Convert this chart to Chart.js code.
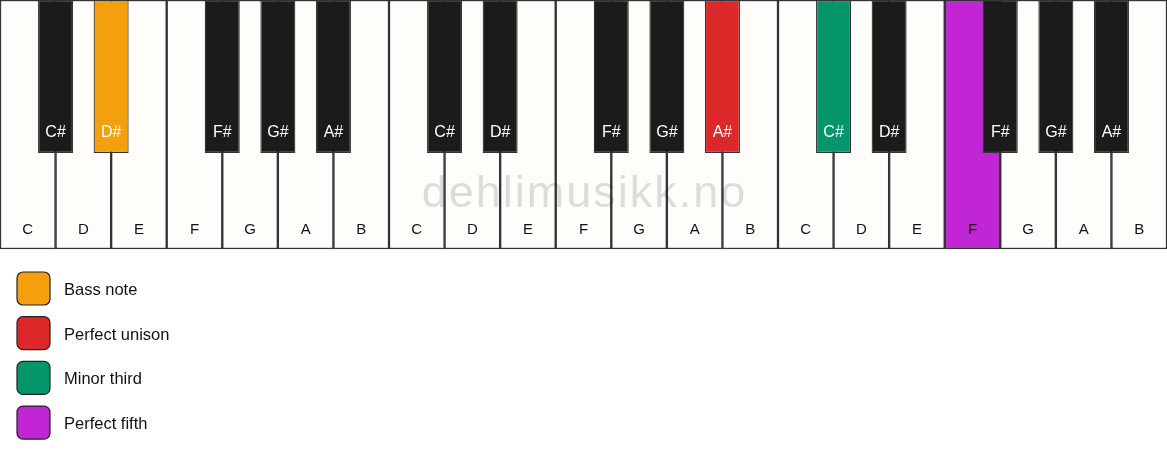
<!DOCTYPE html>
<html>
<head>
<meta charset="utf-8">
<script src="https://cdn.jsdelivr.net/npm/chart.js@4/dist/chart.umd.min.js"></script>
<style>
  html, body { margin: 0; padding: 0; background: #ffffff; }
  #wrap { width: 1167px; height: 461px; position: relative; }
</style>
</head>
<body>
<div id="wrap"><canvas id="piano"></canvas></div>
<script>
// keyboard data: three octaves starting on C
const whiteNotes = ['C','D','E','F','G','A','B','C','D','E','F','G','A','B','C','D','E','F','G','A','B']
const blackNotes = ['C#','D#','F#','G#','A#','C#','D#','F#','G#','A#','C#','D#','F#','G#','A#']
// black keys sit on the boundary between white keys (white key index units)
const blackPositions = [1, 2, 4, 5, 6, 8, 9, 11, 12, 13, 15, 16, 18, 19, 20]

// highlighted keys: which key (by index in its row) and what role it plays
const highlightWhite = [17]
const highlightWhiteRole = ['Perfect fifth']
const highlightBlack = [1, 9, 10]
const highlightBlackRole = ['Bass note', 'Perfect unison', 'Minor third']

const legendLabels = ['Bass note', 'Perfect unison', 'Minor third', 'Perfect fifth']
const legendColors = ['#f49f0e', '#dc2828', '#04966a', '#c026d3']

const watermark = 'dehlimusikk.no'

const WHITE_FILL = '#fffdf9'
const BLACK_FILL = '#1b1b1b'
const KEY_EDGE = '#333333'
const WHITE_BOTTOM = 249
const BLACK_BOTTOM = 153

function roleColor(role) {
    return legendColors[legendLabels.indexOf(role)]
}

const whiteColors = whiteNotes.map((n, i) => {
    const h = highlightWhite.indexOf(i)
    return h >= 0 ? roleColor(highlightWhiteRole[h]) : WHITE_FILL
})
const blackColors = blackNotes.map((n, i) => {
    const h = highlightBlack.indexOf(i)
    return h >= 0 ? roleColor(highlightBlackRole[h]) : BLACK_FILL
})

const whiteData = whiteNotes.map((n, i) => ({ x: i + 0.5, y: [0, WHITE_BOTTOM] }))
const blackData = blackPositions.map(p => ({ x: p, y: [0, BLACK_BOTTOM] }))

const FONT = "'Liberation Sans', Arial, Helvetica, sans-serif"

// key names, watermark and the colour legend
const pianoText = {
    id: 'pianoText',
    afterDatasetsDraw(chart) {
        const ctx = chart.ctx
        const xs = chart.scales.x
        const xb = chart.scales.x2
        const ys = chart.scales.y
        ctx.save()
        ctx.textAlign = 'center'
        ctx.textBaseline = 'middle'

        ctx.font = '15px ' + FONT
        whiteNotes.forEach((n, i) => {
            ctx.fillStyle = '#111111'
            ctx.fillText(n, xs.getPixelForValue(i + 0.5), ys.getPixelForValue(230))
        })
        ctx.font = '16px ' + FONT
        blackNotes.forEach((n, i) => {
            ctx.fillStyle = '#ffffff'
            ctx.fillText(n, xb.getPixelForValue(blackPositions[i]), ys.getPixelForValue(133))
        })

        // watermark
        ctx.font = '45px ' + FONT
        ctx.fillStyle = 'rgba(0, 0, 0, 0.13)'
        ctx.textBaseline = 'alphabetic'
        if ('letterSpacing' in ctx) ctx.letterSpacing = '2px'
        ctx.fillText(watermark, xs.getPixelForValue(10.5) + 1, ys.getPixelForValue(207))
        if ('letterSpacing' in ctx) ctx.letterSpacing = '0px'
        ctx.restore()
    },
    afterDraw(chart) {
        const ctx = chart.ctx
        ctx.save()
        legendLabels.forEach((label, i) => {
            const top = 272 + i * 44.7
            ctx.beginPath()
            ctx.roundRect(17, top, 33, 33, 6)
            ctx.fillStyle = legendColors[i]
            ctx.fill()
            ctx.lineWidth = 1.2
            ctx.strokeStyle = '#222222'
            ctx.stroke()
            ctx.fillStyle = '#111111'
            ctx.font = '16.5px ' + FONT
            ctx.textAlign = 'left'
            ctx.textBaseline = 'middle'
            ctx.fillText(label, 64, top + 18.5)
        })
        ctx.restore()
    }
}

new Chart(document.getElementById('piano').getContext('2d'), {
    type: 'bar',
    data: {
        datasets: [
            {
                label: 'black keys',
                data: blackData,
                xAxisID: 'x2',
                backgroundColor: blackColors,
                borderColor: KEY_EDGE,
                borderWidth: 1.2,
                borderSkipped: false,
                grouped: false,
                categoryPercentage: 1,
                barPercentage: 0.63,
                order: 0
            },
            {
                label: 'white keys',
                data: whiteData,
                xAxisID: 'x',
                backgroundColor: whiteColors,
                borderColor: KEY_EDGE,
                borderWidth: 1.5,
                borderSkipped: false,
                grouped: false,
                categoryPercentage: 1,
                barPercentage: 1,
                order: 1
            }
        ]
    },
    options: {
        responsive: true,
        maintainAspectRatio: false,
        animation: false,
        layout: { padding: 0 },
        plugins: {
            legend: { display: false },
            tooltip: { enabled: false }
        },
        scales: {
            x: { type: 'linear', min: 0, max: 21, offset: false, display: false, ticks: { stepSize: 1 } },
            x2: { type: 'linear', min: 0, max: 21, offset: false, display: false, ticks: { stepSize: 1 } },
            y: { type: 'linear', min: 0, max: 461, reverse: true, display: false }
        }
    },
    plugins: [pianoText]
})
</script>
</body>
</html>
